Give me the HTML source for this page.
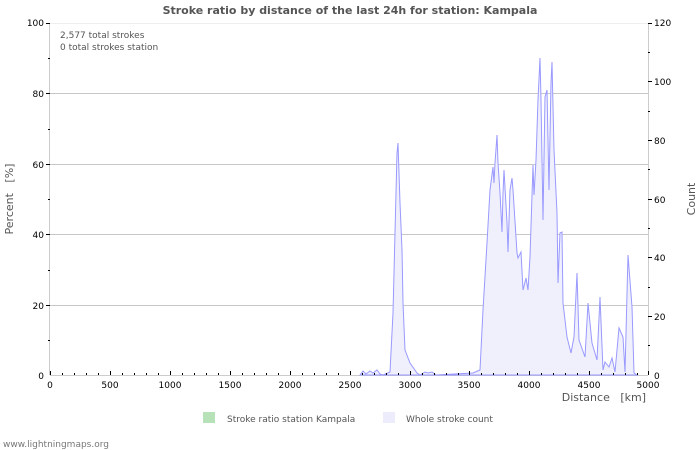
<!DOCTYPE html><html><head><meta charset="utf-8"><style>body{margin:0;background:#fff}svg{display:block;font-family:"DejaVu Sans","Liberation Sans",sans-serif}</style></head><body>
<svg width="700" height="450" viewBox="0 0 700 450">
<rect width="700" height="450" fill="#fff"/>
<text x="350" y="14" text-anchor="middle" font-size="11" font-weight="bold" fill="#555">Stroke ratio by distance of the last 24h for station: Kampala</text>
<g stroke="#c8c8c8" stroke-width="1">
<line x1="50" y1="93.5" x2="648" y2="93.5"/><line x1="50" y1="164.5" x2="648" y2="164.5"/><line x1="50" y1="234.5" x2="648" y2="234.5"/><line x1="50" y1="305.5" x2="648" y2="305.5"/>
</g>
<line x1="49.5" y1="23" x2="49.5" y2="375" stroke="#ccc"/>
<line x1="648.5" y1="23" x2="648.5" y2="375" stroke="#ccc"/>
<line x1="50" y1="23.5" x2="648" y2="23.5" stroke="#eee"/>
<line x1="50" y1="375.5" x2="648" y2="375.5" stroke="#ccc"/>
<polygon fill="#f0f0fc" stroke="#9999ff" stroke-width="1" points="360,375 363,371 366,374 370,371 373,373 377,370 380,374 383,375 390,372 393,313 397,153 398,143 400,203 402,250 403,303 405,350 410,363 417,373 420,375 425,372 428,373 432,372 436,375 473,373 480,370 483,310 487,243 490,190 493,167 494,183 495,163 497,135 498,163 500,193 502,232 503,193 504,170 507,223 508,252 510,190 512,178 513,190 517,253 518,258 521,252 523,290 526,278 528,290 530,257 533,165 534,195 536,160 538,100 540,58 541,100 543,220 545,97 547,90 549,190 551,83 552,62 554,150 557,213 558,283 560,233 562,232 563,303 567,337 571,353 574,337 577,273 579,340 585,357 588,303 592,343 597,360 600,297 603,370 605,362 609,367 612,358 615,372 619,328 623,337 625,372 628,255 632,307 634,373 637,375"/>
<g stroke="#000" stroke-width="1">
<path d="M50 23.5h-4M50 58.5h-2M50 93.5h-4M50 129.5h-2M50 164.5h-4M50 199.5h-2M50 234.5h-4M50 270.5h-2M50 305.5h-4M50 340.5h-2"/>
<path d="M648 23.5h4M648 52.5h2M648 81.5h4M648 111.5h2M648 140.5h4M648 169.5h2M648 199.5h4M648 228.5h2M648 257.5h4M648 287.5h2M648 316.5h4M648 345.5h2"/>
</g>
<g font-size="9" fill="#000" text-anchor="end">
<text x="44" y="26">100</text><text x="44" y="97">80</text><text x="44" y="168">60</text><text x="44" y="238">40</text><text x="44" y="309">20</text><text x="44" y="379">0</text>
</g>
<g font-size="9" fill="#000" text-anchor="start">
<text x="654" y="26">120</text><text x="654" y="85">100</text><text x="654" y="144">80</text><text x="654" y="203">60</text><text x="654" y="261">40</text><text x="654" y="320">20</text><text x="654" y="379">0</text>
</g>
<g font-size="9" fill="#000" text-anchor="middle">
<text x="50" y="388">0</text><text x="110" y="388">500</text><text x="170" y="388">1000</text><text x="230" y="388">1500</text><text x="290" y="388">2000</text><text x="350" y="388">2500</text><text x="410" y="388">3000</text><text x="469" y="388">3500</text><text x="529" y="388">4000</text><text x="589" y="388">4500</text><text x="648" y="388">5000</text>
</g>
<path stroke="#000" d="M50.5 375v-4M62.5 375v-2M74.5 375v-2M86.5 375v-2M98.5 375v-2M110.5 375v-4M122.5 375v-2M134.5 375v-2M146.5 375v-2M158.5 375v-2M170.5 375v-4M182.5 375v-2M194.5 375v-2M206.5 375v-2M218.5 375v-2M230.5 375v-4M242.5 375v-2M254.5 375v-2M266.5 375v-2M278.5 375v-2M290.5 375v-4M302.5 375v-2M314.5 375v-2M326.5 375v-2M338.5 375v-2M350.5 375v-4M362.5 375v-2M374.5 375v-2M386.5 375v-2M398.5 375v-2M410.5 375v-4M422.5 375v-2M434.5 375v-2M446.5 375v-2M458.5 375v-2M469.5 375v-4M481.5 375v-2M493.5 375v-2M505.5 375v-2M517.5 375v-2M529.5 375v-4M541.5 375v-2M553.5 375v-2M565.5 375v-2M577.5 375v-2M589.5 375v-4M601.5 375v-2M613.5 375v-2M625.5 375v-2M637.5 375v-2M648.5 375v-4"/>
<text x="60" y="38" font-size="9" fill="#555">2,577 total strokes</text>
<text x="60" y="50" font-size="9" fill="#555">0 total strokes station</text>
<text x="646" y="401" font-size="11" fill="#555" text-anchor="end">Distance&#160;&#160;&#160;[km]</text>
<text transform="translate(13,199) rotate(-90)" font-size="11" fill="#555" text-anchor="middle">Percent&#160;&#160;&#160;[%]</text>
<text transform="translate(695,199) rotate(-90)" font-size="11" fill="#555" text-anchor="middle">Count</text>
<rect x="203" y="412" width="12" height="11" fill="#b7e2b7"/>
<text x="227" y="422" font-size="9" fill="#555">Stroke ratio station Kampala</text>
<rect x="383" y="412" width="12" height="11" fill="#ececfc"/>
<text x="406" y="422" font-size="9" fill="#555">Whole stroke count</text>
<text x="3" y="447" font-size="9" fill="#777">www.lightningmaps.org</text>
</svg></body></html>
